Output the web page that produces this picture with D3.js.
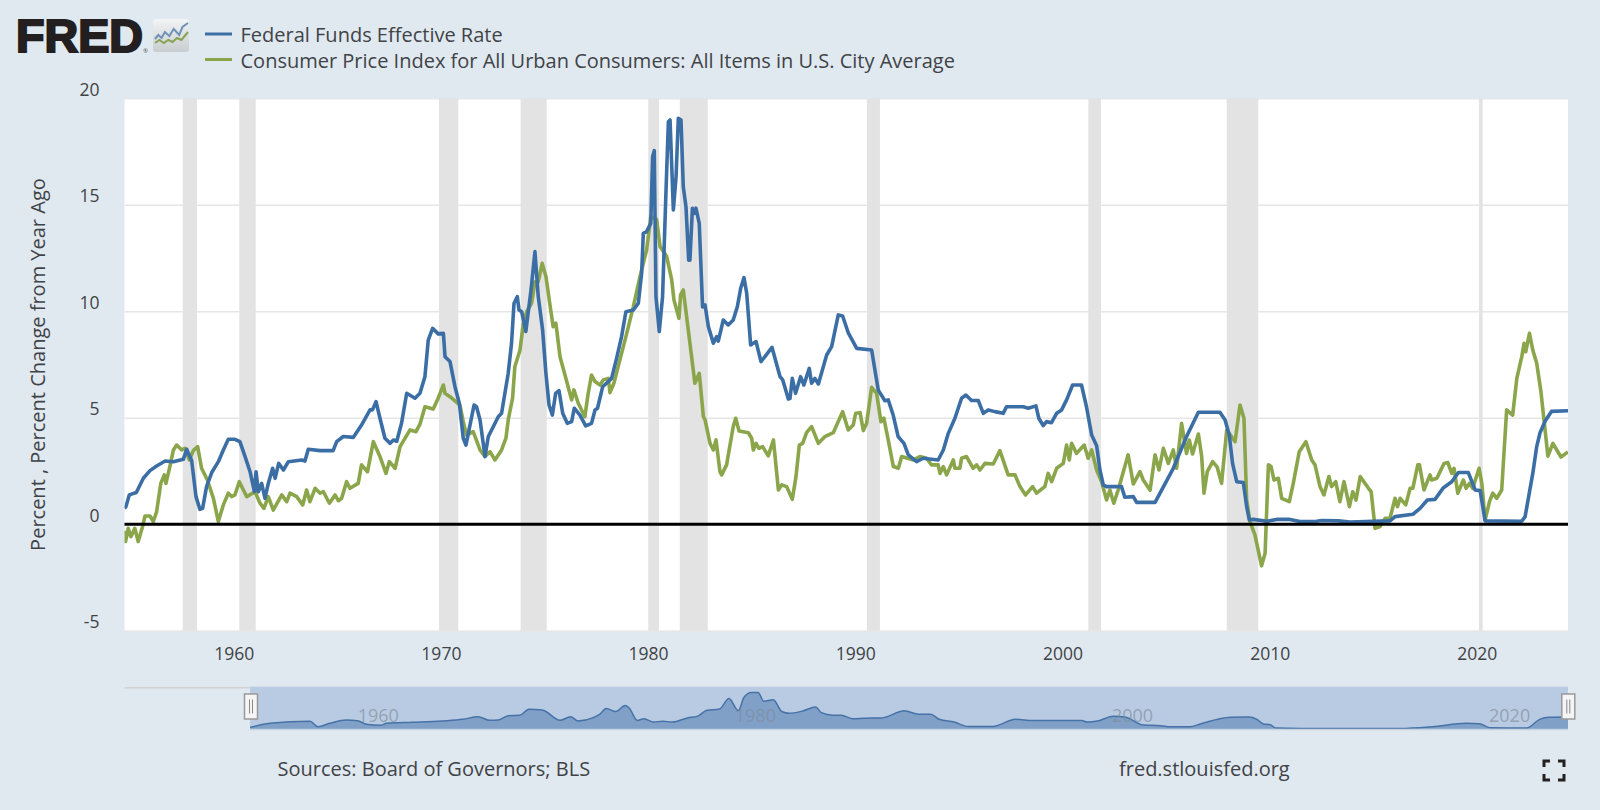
<!DOCTYPE html>
<html>
<head>
<meta charset="utf-8">
<script src="https://cdn.jsdelivr.net/npm/d3@7"></script>
<style>
html, body { margin: 0; padding: 0; background: #e1e9f0; overflow: hidden; }
svg { display: block; font-family: "Open Sans", sans-serif; }
</style>
</head>
<body>
<div id="chart"></div>
<script>
var seriesNames = ['Federal Funds Effective Rate', 'Consumer Price Index for All Urban Consumers: All Items in U.S. City Average'];
var yTicks = [-5, 0, 5, 10, 15, 20];
var xTicks = [1960, 1970, 1980, 1990, 2000, 2010, 2020];
var navTicks = [1960, 1980, 2000, 2020];

// recession bands, decimal years
var recessionStart = [1957.54, 1960.27, 1969.91, 1973.85, 1980.01, 1981.53, 1990.56, 2001.25, 2007.93, 2020.10];
var recessionEnd = [1958.23, 1961.06, 1970.84, 1975.11, 1980.53, 1982.88, 1991.19, 2001.86, 2009.45, 2020.28];

// [decimal year, percent]
var fedRate = [[1954.73,0.75],[1954.80,0.83],[1954.96,1.38],[1955.3,1.49],[1955.64,2.16],[1955.96,2.52],[1956.28,2.74],[1956.69,2.97],[1957.09,2.94],[1957.57,3.05],
	[1957.73,3.52],[1957.97,3.0],[1958.18,1.3],[1958.37,0.7],[1958.5,0.75],[1958.69,1.77],[1958.94,2.43],[1959.26,2.94],[1959.5,3.49],[1959.74,3.99],
	[1960.06,3.99],[1960.3,3.88],[1960.55,3.18],[1960.79,2.47],[1961.0,1.53],[1961.08,2.47],[1961.19,1.53],[1961.35,1.92],[1961.51,1.22],[1961.67,1.92],
	[1961.88,2.63],[1962.0,2.16],[1962.17,2.86],[1962.4,2.55],[1962.64,2.94],[1963.28,3.02],[1963.44,2.97],[1963.6,3.52],[1964.17,3.46],[1964.8,3.46],
	[1964.97,3.88],[1965.29,4.12],[1965.77,4.08],[1966.17,4.66],[1966.58,5.37],[1966.7,5.37],[1966.87,5.76],[1967.06,4.98],[1967.3,4.04],[1967.55,3.8],
	[1967.71,3.96],[1967.87,3.9],[1968.1,4.74],[1968.35,6.15],[1968.75,5.92],[1968.99,6.15],[1969.23,6.93],[1969.39,8.65],[1969.6,9.2],[1969.87,8.94],
	[1970.12,8.97],[1970.2,7.87],[1970.44,7.64],[1970.68,6.46],[1970.89,5.68],[1971.08,4.04],[1971.21,3.72],[1971.6,5.6],[1971.72,5.52],[1971.89,4.9],
	[1972.13,3.18],[1972.29,4.12],[1972.77,5.05],[1972.93,5.21],[1973.25,7.09],[1973.41,8.5],[1973.53,10.38],[1973.69,10.69],[1973.77,10.06],[1973.9,9.98],
	[1974.1,9.05],[1974.35,11.0],[1974.54,12.8],[1974.7,10.69],[1974.91,9.12],[1975.07,7.09],[1975.22,5.6],[1975.38,5.13],[1975.54,6.15],[1975.7,6.28],
	[1975.88,5.21],[1976.1,4.74],[1976.31,4.82],[1976.44,5.45],[1976.71,5.13],[1976.99,4.62],[1977.27,4.74],[1977.44,5.37],[1977.56,5.45],[1977.81,6.46],
	[1978.24,6.85],[1978.48,7.79],[1978.72,8.81],[1978.93,9.98],[1979.29,10.06],[1979.53,10.38],[1979.69,11.78],[1979.77,13.66],[1979.93,13.74],[1980.13,14.13],
	[1980.22,17.26],[1980.3,17.54],[1980.38,10.69],[1980.54,9.05],[1980.7,10.69],[1980.85,15.2],[1980.98,18.9],[1981.06,18.98],[1981.22,14.76],[1981.35,16.3],
	[1981.46,19.06],[1981.59,18.98],[1981.7,15.85],[1981.83,14.9],[1981.96,12.4],[1982.02,12.4],[1982.14,14.84],[1982.23,14.6],[1982.31,14.84],[1982.47,14.13],
	[1982.63,10.2],[1982.75,10.3],[1982.91,9.28],[1983.15,8.5],[1983.31,8.81],[1983.39,8.6],[1983.63,9.59],[1983.87,9.36],[1984.11,9.59],[1984.31,10.22],
	[1984.47,11.08],[1984.63,11.58],[1984.76,10.85],[1984.95,8.42],[1985.21,8.58],[1985.45,7.64],[1985.64,7.87],[1985.98,8.31],[1986.37,6.93],[1986.5,6.78],
	[1986.77,5.88],[1986.85,5.9],[1986.96,6.85],[1987.12,6.15],[1987.36,6.93],[1987.52,6.54],[1987.78,7.32],[1987.89,6.62],[1988.05,6.85],[1988.22,6.59],
	[1988.62,7.95],[1988.86,8.34],[1989.18,9.83],[1989.39,9.78],[1989.67,8.97],[1990.07,8.26],[1990.79,8.18],[1991.11,6.3],[1991.43,5.8],[1991.59,5.84],
	[1991.83,5.13],[1992.07,4.12],[1992.35,3.8],[1992.56,3.26],[1992.96,2.94],[1993.28,3.1],[1994.0,3.02],[1994.25,3.49],[1994.49,4.27],[1994.81,4.98],
	[1995.13,5.92],[1995.34,6.07],[1995.61,5.81],[1995.94,5.81],[1996.18,5.21],[1996.42,5.37],[1996.74,5.29],[1997.14,5.21],[1997.3,5.52],[1998.11,5.52],
	[1998.35,5.45],[1998.72,5.56],[1998.86,4.98],[1999.07,4.63],[1999.23,4.82],[1999.47,4.77],[1999.72,5.21],[1999.96,5.37],[2000.2,5.84],[2000.49,6.54],
	[2000.92,6.54],[2001.16,5.52],[2001.41,4.19],[2001.65,3.69],[2001.81,2.55],[2001.97,1.85],[2002.13,1.77],[2002.85,1.77],[2003.01,1.27],[2003.42,1.3],
	[2003.58,1.03],[2004.47,1.03],[2004.71,1.46],[2005.35,2.63],[2005.99,4.12],[2006.56,5.26],[2007.6,5.26],[2007.85,4.9],[2008.05,4.19],[2008.21,2.86],
	[2008.41,2.0],[2008.73,1.96],[2008.89,0.83],[2009.02,0.2],[2009.21,0.23],[2009.86,0.14],[2010.34,0.23],[2010.98,0.23],[2011.46,0.13],[2012.27,0.14],
	[2012.52,0.18],[2013.32,0.16],[2013.88,0.11],[2015.01,0.14],[2015.81,0.16],[2016.05,0.36],[2016.91,0.47],[2017.26,0.75],[2017.61,1.14],[2017.98,1.17],
	[2018.39,1.72],[2018.79,2.0],[2019.11,2.43],[2019.59,2.43],[2019.92,1.61],[2020.16,1.58],[2020.4,0.16],[2022.17,0.14],[2022.33,0.36],[2022.7,2.39],
	[2022.89,3.65],[2023.05,4.3],[2023.3,4.85],[2023.6,5.3],[2024.4,5.33]];

var cpiChange = [[1954.73,-0.3],[1954.78,-0.81],[1954.91,-0.19],[1955.04,-0.58],[1955.23,-0.19],[1955.39,-0.81],[1955.6,-0.11],[1955.72,0.39],[1955.96,0.39],[1956.12,0.13],
	[1956.28,0.59],[1956.48,1.92],[1956.65,2.32],[1956.73,1.92],[1956.92,2.71],[1957.09,3.49],[1957.25,3.72],[1957.49,3.49],[1957.65,3.57],[1957.86,3.02],
	[1958.05,3.46],[1958.26,3.65],[1958.45,2.63],[1958.73,2.08],[1959.02,1.22],[1959.26,0.13],[1959.5,0.91],[1959.74,1.46],[1959.9,1.3],[1960.06,1.38],
	[1960.27,2.0],[1960.63,1.3],[1961.03,1.53],[1961.27,0.99],[1961.46,0.75],[1961.67,1.3],[1961.91,0.67],[1962.32,1.38],[1962.56,1.06],[1962.72,1.46],
	[1963.04,1.3],[1963.33,0.91],[1963.52,1.61],[1963.68,1.06],[1963.93,1.69],[1964.17,1.46],[1964.33,1.53],[1964.62,0.99],[1964.89,1.38],[1965.05,1.11],
	[1965.21,1.22],[1965.45,2.0],[1965.61,1.69],[1966.01,1.92],[1966.17,2.79],[1966.46,2.47],[1966.74,3.88],[1967.06,3.18],[1967.35,2.39],[1967.51,2.94],
	[1967.79,2.63],[1968.03,3.65],[1968.51,4.43],[1968.8,4.35],[1968.99,4.7],[1969.23,5.52],[1969.63,5.41],[1969.87,5.92],[1970.12,6.54],[1970.2,6.15],
	[1970.44,5.99],[1970.92,5.6],[1971.08,4.82],[1971.24,4.19],[1971.56,4.35],[1971.89,3.49],[1972.13,3.18],[1972.37,3.41],[1972.61,3.02],[1972.93,3.49],
	[1973.14,4.04],[1973.25,4.9],[1973.46,5.92],[1973.57,7.4],[1973.82,8.18],[1973.98,9.44],[1974.14,9.98],[1974.38,10.38],[1974.54,11.39],[1974.7,11.39],
	[1974.89,12.25],[1975.07,11.63],[1975.3,10.06],[1975.42,9.28],[1975.55,9.44],[1975.75,7.87],[1975.99,7.01],[1976.31,5.84],[1976.42,6.31],[1976.63,5.68],
	[1976.95,5.05],[1977.11,6.15],[1977.27,7.01],[1977.44,6.7],[1977.68,6.54],[1977.84,6.78],[1978.08,6.85],[1978.16,6.18],[1978.35,6.62],[1978.64,7.72],
	[1978.93,8.81],[1979.29,10.22],[1979.61,11.63],[1979.93,12.88],[1980.13,14.44],[1980.41,14.32],[1980.58,13.04],[1980.9,12.57],[1981.14,11.47],[1981.25,10.53],
	[1981.49,9.67],[1981.57,10.77],[1981.7,11.0],[1982.02,8.5],[1982.26,6.62],[1982.47,7.09],[1982.67,5.05],[1982.75,4.9],[1982.99,3.8],[1983.15,3.49],
	[1983.28,3.96],[1983.47,2.47],[1983.55,2.32],[1983.79,2.79],[1984.11,4.59],[1984.23,4.98],[1984.39,4.38],[1984.84,4.3],[1985.0,4.04],[1985.08,3.49],
	[1985.21,3.8],[1985.35,3.57],[1985.53,3.65],[1985.8,3.21],[1986.05,3.96],[1986.29,1.61],[1986.45,1.85],[1986.69,1.77],[1986.96,1.17],[1987.14,2.24],
	[1987.3,3.72],[1987.46,3.8],[1987.65,4.3],[1987.89,4.59],[1988.22,3.8],[1988.54,4.12],[1988.94,4.3],[1989.39,5.29],[1989.66,4.43],[1989.9,4.66],
	[1990.02,5.21],[1990.23,5.24],[1990.39,4.4],[1990.55,4.74],[1990.79,6.43],[1991.03,6.15],[1991.24,4.82],[1991.38,4.98],[1991.59,3.96],[1991.84,2.71],
	[1992.08,2.63],[1992.24,3.18],[1992.8,3.02],[1993.12,3.18],[1993.44,3.1],[1993.68,2.79],[1994.0,2.79],[1994.09,2.39],[1994.25,2.71],[1994.41,2.32],
	[1994.73,3.02],[1994.81,2.63],[1995.05,2.63],[1995.13,3.1],[1995.37,3.18],[1995.69,2.63],[1995.86,2.79],[1996.02,2.55],[1996.26,2.86],[1996.66,2.83],
	[1996.98,3.46],[1997.38,2.32],[1997.71,2.32],[1997.95,1.77],[1998.22,1.38],[1998.56,1.77],[1998.75,1.46],[1999.15,1.77],[1999.31,2.39],[1999.48,2.0],
	[1999.72,2.63],[2000.04,2.86],[2000.2,3.72],[2000.33,3.02],[2000.44,3.8],[2000.68,3.33],[2001.05,3.72],[2001.24,3.1],[2001.41,3.49],[2001.65,2.55],
	[2001.89,2.0],[2002.13,1.14],[2002.29,1.61],[2002.48,0.99],[2002.69,1.61],[2003.17,3.26],[2003.42,1.89],[2003.74,2.47],[2003.9,2.08],[2004.23,1.6],
	[2004.47,3.26],[2004.66,2.55],[2004.87,3.57],[2005.11,2.86],[2005.35,3.49],[2005.51,2.63],[2005.75,4.74],[2005.99,3.33],[2006.12,3.96],[2006.28,3.3],
	[2006.56,4.24],[2006.72,3.18],[2006.83,1.46],[2006.99,2.47],[2007.25,2.94],[2007.47,2.68],[2007.68,1.92],[2007.93,4.43],[2008.33,3.88],[2008.57,5.6],
	[2008.76,4.98],[2008.89,1.14],[2009.05,0.13],[2009.29,-0.5],[2009.61,-1.95],[2009.78,-1.36],[2009.94,2.79],[2010.07,2.71],[2010.21,2.08],[2010.42,2.16],
	[2010.58,1.22],[2010.95,1.06],[2011.14,1.92],[2011.43,3.41],[2011.75,3.88],[2012.03,3.02],[2012.19,2.79],[2012.43,1.77],[2012.62,1.38],[2012.86,2.24],
	[2012.99,1.77],[2013.19,2.0],[2013.39,1.06],[2013.59,2.0],[2013.85,0.83],[2014.01,1.53],[2014.17,1.14],[2014.37,2.24],[2014.77,1.69],[2014.9,1.53],
	[2015.09,-0.19],[2015.33,-0.11],[2015.57,0.28],[2015.81,0.28],[2016.05,1.22],[2016.17,0.83],[2016.3,1.22],[2016.57,0.91],[2016.78,1.69],[2016.91,1.69],
	[2017.15,2.79],[2017.23,2.79],[2017.45,1.61],[2017.74,2.32],[2017.82,2.08],[2018.07,2.16],[2018.42,2.86],[2018.6,2.9],[2018.79,2.39],[2018.9,2.63],
	[2019.08,1.46],[2019.35,2.08],[2019.48,1.69],[2019.64,1.92],[2019.8,1.69],[2020.11,2.63],[2020.24,1.92],[2020.4,0.2],[2020.61,1.06],[2020.77,1.46],
	[2020.96,1.22],[2021.2,1.61],[2021.44,5.37],[2021.73,5.13],[2021.93,6.85],[2022.17,7.87],[2022.28,8.5],[2022.36,8.1],[2022.54,8.97],[2022.7,8.18],
	[2022.89,7.56],[2023.09,6.26],[2023.43,3.2],[2023.67,3.8],[2024.06,3.16],[2024.4,3.4]];

// smoothed fed funds series shown in the navigator strip
var navRate = [[1954.5,0.7],[1955.56,2.46],[1957.68,3.33],[1958.1,1.0],[1958.74,2.46],[1959.6,3.9],[1960.2,3.6],[1960.68,2.03],[1961.4,1.6],[1961.75,2.46],
	[1963.1,2.9],[1964.7,3.48],[1965.8,4.2],[1966.6,5.36],[1967.2,3.77],[1967.66,3.9],[1968.2,5.8],[1968.8,5.94],[1969.3,8.55],[1970,8.26],
	[1970.95,3.77],[1971.5,5.36],[1971.9,3.48],[1972.7,4.93],[1973.06,6.5],[1973.4,8.85],[1973.9,7.6],[1974.4,10.25],[1974.6,9.2],[1975.05,3.7],
	[1975.4,4.5],[1975.9,3],[1976.4,3.4],[1976.9,3],[1977.7,4.8],[1978.25,5.6],[1978.7,8],[1979.4,8.7],[1979.9,13.2],[1980.4,8],
	[1980.7,13.8],[1981.1,15.8],[1981.45,15.8],[1981.75,12],[1982.25,12.7],[1982.7,7.6],[1983.1,6.8],[1983.85,7.9],[1984.5,9.6],[1984.8,7.1],
	[1985.4,6],[1985.85,6],[1986.45,4.5],[1987.1,4.7],[1988,4.8],[1989.2,7.9],[1989.95,6.4],[1990.6,6.4],[1991.05,4.2],[1991.85,3],
	[1992.6,1.1],[1993.9,1.1],[1995.1,4.2],[1996,3.7],[1998.6,3.7],[1998.9,3],[1999.45,3.5],[2000.3,5.5],[2000.9,5.2],[2001.9,1.7],
	[2002.8,1.45],[2003.3,1],[2004.35,1],[2004.9,2.2],[2006.5,5.07],[2007.45,5.2],[2007.9,4.2],[2008.25,2.2],[2008.6,1.9],[2008.9,0.44],
	[2010.2,0.25],[2015.5,0.25],[2017.2,1],[2019,2.46],[2019.7,2.3],[2020.25,0.58],[2022.2,0.4],[2022.9,4.2],[2023.4,5.07],[2024.4,5.2]];

// small trend lines inside the logo badge, in badge units
var badgeBlue = [[0,10],[3,14],[6,11],[9,17],[13,13],[17,20],[22,14],[25,22],[30,26]];
var badgeGreen = [[0,6],[4,9],[8,6],[12,9],[16,7],[20,11],[24,9],[27,13],[30,17]];

var margins = {top: 98.3, right: 32, bottom: 179.2, left: 124.5};
var fullWidth = 1600;
var fullHeight = 810;
var width = fullWidth - margins.left - margins.right;
var height = fullHeight - margins.top - margins.bottom;

var xscale = d3.scaleLinear().domain([1954.73, 2024.4]).range([0, width]);
var yscale = d3.scaleLinear().domain([-5, 20]).range([height, 0]);

var navLeft = 250;
var navRight = 1568;
var navTop = 687.7;
var navBottom = 729;
var navx = d3.scaleLinear().domain([1954.5, 2024.4]).range([navLeft, navRight]);
var navy = d3.scaleLinear().domain([0, 16.5]).range([navBottom, navBottom - 38]);

var textColor = '#3f4347';
var fedColor = '#3c6ea6';
var cpiColor = '#8aa54a';

var svg = d3.select('#chart')
	.append('svg')
	.attr('width', fullWidth)
	.attr('height', fullHeight);

svg.append('rect')
	.attr('width', fullWidth)
	.attr('height', fullHeight)
	.style('fill', '#e1e9f0');

// logo
var logo = svg.append('g');
logo.append('text')
	.attr('x', 16)
	.attr('y', 52)
	.attr('textLength', 127)
	.attr('lengthAdjust', 'spacingAndGlyphs')
	.style('font-family', '"Liberation Sans", sans-serif')
	.style('font-weight', 'bold')
	.style('font-size', '47px')
	.style('fill', '#231f20')
	.style('stroke', '#231f20')
	.style('stroke-width', 2.2)
	.text('FRED');
logo.append('text')
	.attr('x', 143)
	.attr('y', 53)
	.style('font-size', '6px')
	.style('fill', '#555')
	.text('®');

var badgeFill = svg.append('defs').append('linearGradient')
	.attr('id', 'badgeFill')
	.attr('x1', 0).attr('y1', 0).attr('x2', 0).attr('y2', 1);
badgeFill.append('stop').attr('offset', '0%').style('stop-color', '#f2f4f5');
badgeFill.append('stop').attr('offset', '100%').style('stop-color', '#c9cdcf');

var badge = logo.append('g').attr('transform', 'translate(153, 19)');
badge.append('rect')
	.attr('width', 36)
	.attr('height', 33)
	.attr('rx', 3)
	.style('fill', 'url(#badgeFill)');
var badgeX = d3.scaleLinear().domain([0, 30]).range([2, 35]);
var badgeY = d3.scaleLinear().domain([0, 30]).range([30, 0]);
var badgeLine = d3.line()
	.x(function(d) { return badgeX(d[0]); })
	.y(function(d) { return badgeY(d[1]); });
badge.append('path').attr('d', badgeLine(badgeBlue))
	.style('fill', 'none').style('stroke', '#6f93b8').style('stroke-width', 2);
badge.append('path').attr('d', badgeLine(badgeGreen))
	.style('fill', 'none').style('stroke', '#88a356').style('stroke-width', 2);

// legend
var legend = svg.selectAll('.legend').data(seriesNames)
	.enter().append('g')
	.attr('class', 'legend')
	.attr('transform', function(d, i) {
		return 'translate(205, ' + (34 + i * 25.5) + ')';
	});
legend.append('line')
	.attr('x2', 27)
	.style('stroke', function(d, i) { return i == 0 ? fedColor : cpiColor; })
	.style('stroke-width', 3);
legend.append('text')
	.attr('x', 35.5)
	.attr('y', 8)
	.style('font-size', '20px')
	.style('fill', textColor)
	.text(function(d) { return d; });

// plot
var plot = svg.append('g')
	.attr('transform', 'translate(' + margins.left + ', ' + margins.top + ')');

plot.append('rect')
	.attr('width', width)
	.attr('height', height)
	.style('fill', '#fff');

plot.append('clipPath')
	.attr('id', 'plotClip')
	.append('rect')
	.attr('width', width)
	.attr('height', height);

var vaxis = d3.axisLeft(yscale).tickValues(yTicks).tickSize(-width).tickPadding(25).tickFormat(String);
var vguide = plot.append('g');
vaxis(vguide);
vguide.attr('font-family', null);
vguide.select('path').remove();
vguide.selectAll('line')
	.style('stroke', '#e6e6e6')
	.style('stroke-width', 1.5);
vguide.selectAll('text')
	.attr('dy', '-0.18em')
	.style('font-size', '17.5px')
	.style('fill', textColor);

plot.selectAll('.recession').data(recessionStart)
	.enter().append('rect')
	.attr('class', 'recession')
	.attr('x', function(d) { return xscale(d); })
	.attr('y', 0)
	.attr('width', function(d, i) { return xscale(recessionEnd[i]) - xscale(d); })
	.attr('height', height)
	.style('fill', '#e3e3e3');

var haxis = d3.axisBottom(xscale).tickValues(xTicks).tickSize(0).tickPadding(17).tickFormat(d3.format('d'));
var hguide = plot.append('g')
	.attr('transform', 'translate(0, ' + height + ')');
haxis(hguide);
hguide.attr('font-family', null);
hguide.select('path').remove();
hguide.selectAll('text')
	.style('font-size', '17.5px')
	.style('fill', textColor);

var line = d3.line()
	.x(function(d) { return xscale(d[0]); })
	.y(function(d) { return yscale(d[1]); });

var lines = plot.append('g').attr('clip-path', 'url(#plotClip)');
lines.append('path')
	.attr('d', line(cpiChange))
	.style('fill', 'none')
	.style('stroke', cpiColor)
	.style('stroke-width', 3.6)
	.style('stroke-linejoin', 'round');
lines.append('path')
	.attr('d', line(fedRate))
	.style('fill', 'none')
	.style('stroke', fedColor)
	.style('stroke-width', 3.6)
	.style('stroke-linejoin', 'round');

plot.append('line')
	.attr('x1', 0)
	.attr('x2', width)
	.attr('y1', yscale(0))
	.attr('y2', yscale(0))
	.style('stroke', '#000')
	.style('stroke-width', 3);

svg.append('text')
	.attr('transform', 'translate(45, ' + (margins.top + yscale(7.5)) + ') rotate(-90)')
	.style('text-anchor', 'middle')
	.style('font-size', '20px')
	.style('fill', textColor)
	.text('Percent , Percent Change from Year Ago');

// navigator
var nav = svg.append('g');
nav.append('line')
	.attr('x1', margins.left)
	.attr('x2', navLeft)
	.attr('y1', navTop)
	.attr('y2', navTop)
	.style('stroke', '#cfd2d4')
	.style('stroke-width', 1.5);
nav.append('rect')
	.attr('x', navLeft)
	.attr('y', navTop - 1)
	.attr('width', navRight - navLeft)
	.attr('height', navBottom - navTop + 1)
	.style('fill', '#b9cbe2');

var navArea = d3.area()
	.curve(d3.curveMonotoneX)
	.x(function(d) { return navx(d[0]); })
	.y0(navBottom)
	.y1(function(d) { return navy(d[1]); });
nav.append('path')
	.attr('d', navArea(navRate))
	.style('fill', '#80a0c8');
nav.append('path')
	.attr('d', navArea.lineY1()(navRate))
	.style('fill', 'none')
	.style('stroke', '#4572a7')
	.style('stroke-width', 1.5);
nav.append('line')
	.attr('x1', navLeft)
	.attr('x2', navRight)
	.attr('y1', navBottom + 0.5)
	.attr('y2', navBottom + 0.5)
	.style('stroke', '#c6d2df')
	.style('stroke-width', 1.5);

nav.selectAll('.navtick').data(navTicks)
	.enter().append('text')
	.attr('class', 'navtick')
	.attr('x', function(d) { return navx(d) + 4; })
	.attr('y', 722)
	.style('font-size', '18px')
	.style('fill', '#7d8a99')
	.style('fill-opacity', 0.65)
	.text(function(d) { return d; });

var handles = nav.selectAll('.handle').data([navLeft + 1, navRight + 0.3])
	.enter().append('g')
	.attr('class', 'handle')
	.attr('transform', function(d) { return 'translate(' + d + ', 706.5)'; });
handles.append('rect')
	.attr('x', -6.5)
	.attr('y', -12.5)
	.attr('width', 13)
	.attr('height', 25)
	.style('fill', '#f5f5f5')
	.style('stroke', '#999')
	.style('stroke-width', 1.5);
handles.selectAll('line').data([-1.5, 1.5])
	.enter().append('line')
	.attr('x1', function(d) { return d; })
	.attr('x2', function(d) { return d; })
	.attr('y1', -7)
	.attr('y2', 7)
	.style('stroke', '#888')
	.style('stroke-width', 1);

// footer
svg.append('text')
	.attr('x', 277.5)
	.attr('y', 776)
	.style('font-size', '20px')
	.style('fill', textColor)
	.text('Sources: Board of Governors; BLS');
svg.append('text')
	.attr('x', 1119)
	.attr('y', 776)
	.style('font-size', '20px')
	.style('fill', textColor)
	.text('fred.stlouisfed.org');

// fullscreen icon
var corners = ['M1544,767V761H1550', 'M1558,761H1564V767', 'M1544,774V780H1550', 'M1558,780H1564V774'];
svg.selectAll('.corner').data(corners)
	.enter().append('path')
	.attr('class', 'corner')
	.attr('d', function(d) { return d; })
	.style('fill', 'none')
	.style('stroke', '#222')
	.style('stroke-width', 3);
</script>
</body>
</html>
